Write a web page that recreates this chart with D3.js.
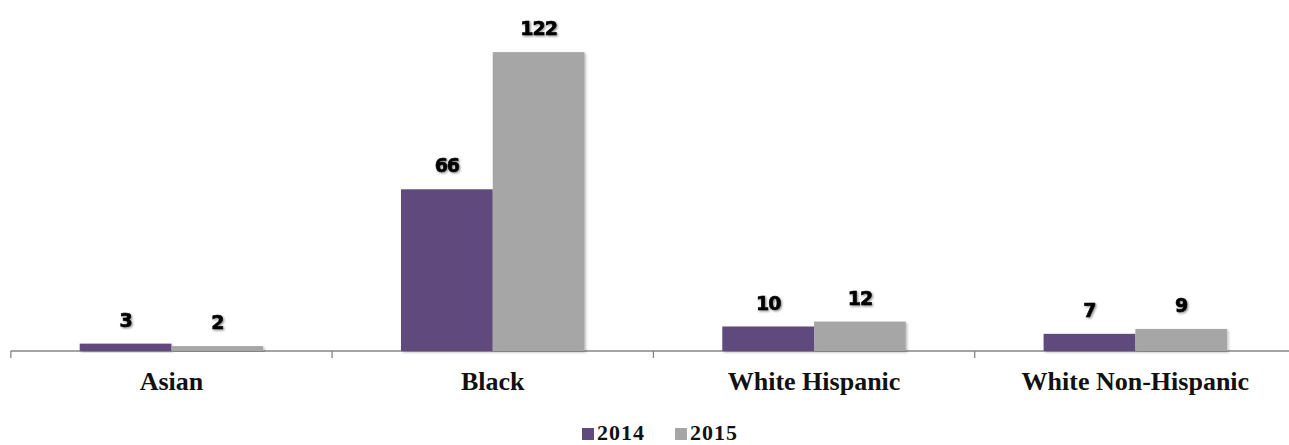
<!DOCTYPE html>
<html><head><meta charset="utf-8">
<script src="https://cdn.jsdelivr.net/npm/d3@7"></script>
<style>
html,body{margin:0;padding:0;background:#fff;overflow:hidden;}
svg{display:block;}
</style></head>
<body><svg id="chart" width="1289" height="445"></svg>
<script>
const categories = ["Asian", "Black", "White Hispanic", "White Non-Hispanic"];
const seriesNames = ["2014", "2015"];
const values2014 = [3, 66, 10, 7];
const values2015 = [2, 122, 12, 9];
const colors = ["#604a7b", "#a6a6a6"];

const svg = d3.select("#chart");
const defs = svg.append("defs");
const f = defs.append("filter").attr("id","shadow").attr("x","-10%").attr("y","-10%").attr("width","130%").attr("height","130%");
f.append("feDropShadow").attr("dx",1.5).attr("dy",1.5).attr("stdDeviation",1.2).attr("flood-color","#000").attr("flood-opacity",0.25);
const tf = defs.append("filter").attr("id","tshadow").attr("x","-20%").attr("y","-20%").attr("width","140%").attr("height","140%");
tf.append("feDropShadow").attr("dx",1.2).attr("dy",1.2).attr("stdDeviation",0.8).attr("flood-color","#000").attr("flood-opacity",0.45);

const x0 = d3.scaleBand().domain(categories).range([10.8, 1296]).paddingInner(0).paddingOuter(0);
const pairWidth = 183.5;
const x1 = d3.scaleBand().domain(seriesNames).range([0, x0.bandwidth()]).paddingInner(0)
  .paddingOuter((x0.bandwidth() - pairWidth) / 2 / (pairWidth/2));
const y = d3.scaleLinear().domain([0, 140]).range([351, 8]);

const data = categories.map((c,i)=>({cat:c, vals:[{s:"2014",v:values2014[i]},{s:"2015",v:values2015[i]}]}));

// axis
const axis = svg.append("g").attr("transform","translate(0,351)")
  .call(d3.axisBottom(x0).tickSize(0).tickFormat(""));
axis.select(".domain").remove();
axis.append("line").attr("x1",x0.range()[0]).attr("x2",x0.range()[1]).attr("y1",0).attr("y2",0).attr("stroke","#868686").attr("stroke-width",1.3);
categories.forEach(c=>{
  axis.append("line").attr("x1",x0(c)).attr("x2",x0(c)).attr("y1",0).attr("y2",7).attr("stroke","#868686").attr("stroke-width",1.3);
});

const groups = svg.append("g").selectAll("g").data(data).join("g")
  .attr("transform", d=>`translate(${x0(d.cat)},0)`);
groups.selectAll("rect").data(d=>d.vals).join("rect")
  .attr("x", d=>x1(d.s)).attr("width", x1.bandwidth())
  .attr("y", d=>y(d.v)).attr("height", d=>y(0)-y(d.v))
  .attr("fill", (d,i)=>colors[i]).attr("filter","url(#shadow)");
groups.selectAll("text").data(d=>d.vals).join("text")
  .attr("x", d=>x1(d.s)+x1.bandwidth()/2).attr("y", d=>y(d.v)-17)
  .attr("text-anchor","middle")
  .attr("font-family","'DejaVu Sans', sans-serif").attr("font-weight","bold")
  .attr("font-size","19px").attr("letter-spacing","-1px").attr("fill","#000")
  .attr("stroke","#000").attr("stroke-width",0.6)
  .attr("filter","url(#tshadow)")
  .text(d=>d.v);

// category labels
svg.append("g").selectAll("text").data(categories).join("text")
  .attr("x", d=>x0(d)+x0.bandwidth()/2).attr("y", 390)
  .attr("text-anchor","middle")
  .attr("font-family","'Liberation Serif', serif").attr("font-weight","bold")
  .attr("font-size","26px").attr("fill","#111")
  .text(d=>d);

// legend
const legend = svg.append("g");
const legX = [582, 675];
seriesNames.forEach((s,i)=>{
  legend.append("rect").attr("x",legX[i]).attr("y",428).attr("width",12).attr("height",12).attr("fill",colors[i]);
  legend.append("text").attr("x",legX[i]+15).attr("y",440)
    .attr("font-family","'Liberation Serif', serif").attr("font-weight","bold")
    .attr("font-size","22px").attr("letter-spacing","1px").attr("fill","#111").text(s);
});
</script>
</body></html>
